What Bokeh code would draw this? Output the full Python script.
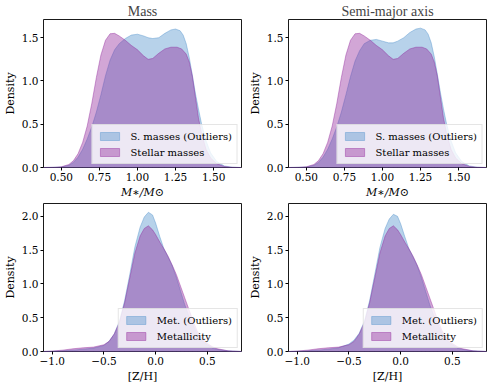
from bokeh.plotting import figure
from bokeh.layouts import column, row
from bokeh.models import Range1d, FixedTicker, Legend, LegendItem
from bokeh.embed import file_html
from bokeh.resources import INLINE

# ---------------- data ----------------
titles = ["Mass", "Semi-major axis"]
mass_xlabel = "M∗/M⊙"
met_xlabel = "[Z/H]"
ylabel = "Density"

mass_legend = ["S. masses (Outliers)", "Stellar masses"]
met_legend = ["Met. (Outliers)", "Metallicity"]

mass_ticks = [0.5, 0.75, 1.0, 1.25, 1.5]
mass_tick_labels = ["0.50", "0.75", "1.00", "1.25", "1.50"]
mass_yticks = [0.0, 0.5, 1.0, 1.5]
mass_ytick_labels = ["0.0", "0.5", "1.0", "1.5"]
met_ticks = [-1.0, -0.5, 0.0, 0.5]
met_tick_labels = ["−1.0", "−0.5", "0.0", "0.5"]
met_yticks = [0.0, 0.5, 1.0, 1.5, 2.0]
met_ytick_labels = ["0.0", "0.5", "1.0", "1.5", "2.0"]

mass_x_blue = [0.38, 0.45, 0.50, 0.55, 0.58, 0.61, 0.64, 0.67, 0.70, 0.73, 0.76, 0.79, 0.82, 0.85,
               0.88, 0.92, 0.96, 1.00, 1.04, 1.07, 1.10, 1.14, 1.18, 1.22, 1.25, 1.28, 1.30, 1.32,
               1.34, 1.36, 1.38, 1.40, 1.42, 1.45, 1.48, 1.52, 1.57, 1.62, 1.68]
mass_outliers_a = [0.0, 0.002, 0.006, 0.025, 0.06, 0.12, 0.21, 0.33, 0.47, 0.64, 0.84, 1.06, 1.24, 1.36,
                   1.43, 1.49, 1.53, 1.54, 1.52, 1.50, 1.49, 1.50, 1.55, 1.59, 1.60, 1.58, 1.53, 1.43,
                   1.27, 1.07, 0.86, 0.68, 0.51, 0.31, 0.17, 0.07, 0.018, 0.004, 0.0]
mass_outliers_b = [0.0, 0.002, 0.006, 0.025, 0.06, 0.12, 0.21, 0.33, 0.47, 0.64, 0.84, 1.05, 1.23, 1.35,
                   1.43, 1.47, 1.48, 1.46, 1.44, 1.44, 1.46, 1.50, 1.56, 1.60, 1.61, 1.59, 1.54, 1.44,
                   1.28, 1.08, 0.87, 0.68, 0.51, 0.31, 0.17, 0.07, 0.018, 0.004, 0.0]

mass_x_purple = [0.38, 0.45, 0.50, 0.55, 0.58, 0.61, 0.64, 0.67, 0.70, 0.73, 0.76, 0.79, 0.82, 0.85,
                 0.88, 0.92, 0.96, 1.00, 1.04, 1.07, 1.10, 1.14, 1.18, 1.22, 1.26, 1.29, 1.32, 1.34,
                 1.36, 1.38, 1.40, 1.42, 1.45, 1.48, 1.52, 1.57, 1.62, 1.68]
stellar_mass = [0.0, 0.002, 0.008, 0.035, 0.08, 0.16, 0.29, 0.48, 0.74, 1.04, 1.30, 1.47, 1.545, 1.55,
                1.52, 1.47, 1.41, 1.36, 1.29, 1.25, 1.26, 1.32, 1.37, 1.39, 1.39, 1.37, 1.31, 1.22,
                1.06, 0.82, 0.58, 0.40, 0.21, 0.11, 0.045, 0.012, 0.002, 0.0]

met_x = [-1.09, -1.0, -0.9, -0.8, -0.7, -0.6, -0.5, -0.45, -0.4, -0.35, -0.3, -0.25, -0.2, -0.15,
         -0.11, -0.07, -0.03, 0.0, 0.04, 0.08, 0.12, 0.16, 0.2, 0.24, 0.28, 0.32, 0.36, 0.4, 0.45,
         0.5, 0.55, 0.6, 0.7, 0.84]
met_outliers_a = [0.0, 0.003, 0.01, 0.02, 0.035, 0.05, 0.09, 0.15, 0.26, 0.45, 0.75, 1.14, 1.55, 1.84,
                  1.99, 2.06, 2.02, 1.90, 1.70, 1.52, 1.40, 1.27, 1.10, 0.90, 0.70, 0.53, 0.40, 0.27, 0.16,
                  0.10, 0.05, 0.03, 0.01, 0.0]
met_outliers_b = [0.0, 0.003, 0.01, 0.02, 0.035, 0.055, 0.11, 0.17, 0.27, 0.45, 0.75, 1.14, 1.54, 1.82,
                  1.96, 2.03, 2.00, 1.89, 1.70, 1.52, 1.40, 1.27, 1.10, 0.90, 0.70, 0.53, 0.40, 0.27, 0.16,
                  0.10, 0.05, 0.03, 0.01, 0.0]
metallicity = [0.0, 0.007, 0.02, 0.04, 0.055, 0.065, 0.10, 0.15, 0.26, 0.43, 0.72, 1.09, 1.46, 1.71,
               1.82, 1.86, 1.80, 1.73, 1.62, 1.52, 1.41, 1.28, 1.14, 0.97, 0.80, 0.63, 0.46, 0.31, 0.19,
               0.12, 0.07, 0.04, 0.01, 0.0]

mass_xrange = (0.383, 1.683)
mass_yrange = (0.0, 1.71)
met_xrange = (-1.084, 0.83)
met_yrange = (0.0, 2.19)

BLUE = "#4a8ecb"
PURPLE = "#8e2199"
TITLE_FONT = "'Liberation Serif', 'DejaVu Serif', serif"
FONT = "DejaVu Serif"


def make_fig(title, xr, yr, xticks, xlabels, yticks, ylabels, xlabel, italic_x,
             series, legend_labels, fh, with_title):
    p = figure(frame_width=198, frame_height=fh, output_backend="svg", toolbar_location=None,
               x_range=Range1d(*xr), y_range=Range1d(*yr),
               title=title if with_title else None)
    p.min_border_left = 2
    p.min_border_right = 4
    p.min_border_top = 2
    p.min_border_bottom = 2
    p.background_fill_color = "white"
    p.border_fill_color = "white"
    p.outline_line_color = "black"
    p.outline_line_width = 0.9
    p.xgrid.visible = False
    p.ygrid.visible = False
    if with_title:
        p.title.text_font = TITLE_FONT
        p.title.text_font_size = "14px"
        p.title.text_font_style = "normal"
        p.title.align = "center"
        p.title.standoff = 2
    for ax, ticks, labels in ((p.xaxis[0], xticks, xlabels), (p.yaxis[0], yticks, ylabels)):
        ax.ticker = FixedTicker(ticks=ticks)
        ax.major_label_overrides = {t: l for t, l in zip(ticks, labels)}
        ax.axis_line_color = None
        ax.major_tick_in = 0
        ax.major_tick_out = 3
        ax.minor_tick_in = 0
        ax.minor_tick_out = 0
        ax.major_tick_line_color = "black"
        ax.major_label_text_font = FONT
        ax.major_label_text_font_style = "normal"
        ax.major_label_text_font_size = "10.5px"
        ax.major_label_text_color = "black"
        ax.major_label_standoff = 2
        ax.axis_label_text_font = FONT
        ax.axis_label_text_font_size = "11px"
        ax.axis_label_text_color = "black"
        ax.axis_label_standoff = 2
    p.xaxis.axis_label = xlabel
    p.xaxis.axis_label_text_font_style = "italic" if italic_x else "normal"
    p.yaxis.axis_label = ylabel
    p.yaxis.axis_label_text_font_style = "normal"

    items = []
    for (xs, ys, color), lab in zip(series, legend_labels):
        px = list(xs) + list(xs)[::-1]
        py = list(ys) + [0.0] * len(ys)
        r = p.patch(x=px, y=py, fill_color=color, fill_alpha=0.4,
                    line_color=color, line_alpha=0.4, line_width=1)
        items.append(LegendItem(label=lab, renderers=[r]))
    leg = Legend(items=items, location="bottom_right")
    leg.label_text_font = FONT
    leg.label_text_font_size = "10px"
    leg.label_text_color = "black"
    leg.glyph_width = 24
    leg.glyph_height = 10
    leg.label_height = 12
    leg.spacing = 4
    leg.padding = 5
    leg.margin = 3
    leg.label_standoff = 9
    leg.border_line_color = "#cccccc"
    leg.border_line_width = 1
    leg.background_fill_alpha = 0.8
    p.add_layout(leg)
    return p


FH = 148
p1 = make_fig(titles[0], mass_xrange, mass_yrange, mass_ticks, mass_tick_labels,
              mass_yticks, mass_ytick_labels, mass_xlabel, True,
              [(mass_x_blue, mass_outliers_a, BLUE), (mass_x_purple, stellar_mass, PURPLE)],
              mass_legend, FH, True)
p2 = make_fig(titles[1], mass_xrange, mass_yrange, mass_ticks, mass_tick_labels,
              mass_yticks, mass_ytick_labels, mass_xlabel, True,
              [(mass_x_blue, mass_outliers_b, BLUE), (mass_x_purple, stellar_mass, PURPLE)],
              mass_legend, FH, True)
p3 = make_fig(None, met_xrange, met_yrange, met_ticks, met_tick_labels,
              met_yticks, met_ytick_labels, met_xlabel, False,
              [(met_x, met_outliers_a, BLUE), (met_x, metallicity, PURPLE)],
              met_legend, FH, False)
p4 = make_fig(None, met_xrange, met_yrange, met_ticks, met_tick_labels,
              met_yticks, met_ytick_labels, met_xlabel, False,
              [(met_x, met_outliers_b, BLUE), (met_x, metallicity, PURPLE)],
              met_legend, FH, False)

layout = column(row(p1, p2), row(p3, p4))
open("out.html", "w").write(file_html(layout, INLINE))
